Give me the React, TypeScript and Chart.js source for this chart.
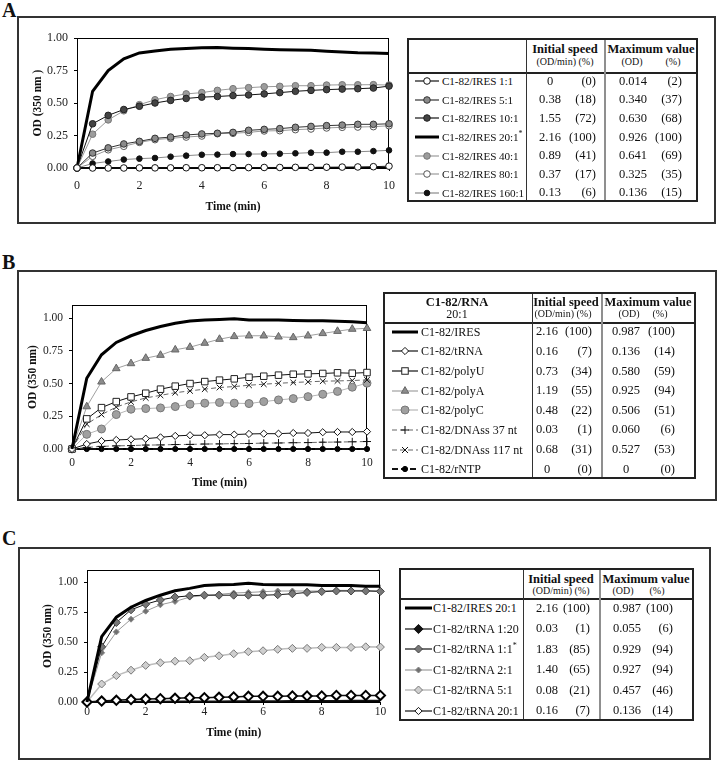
import React, { useEffect, useRef } from 'react';
import { Chart, registerables } from 'chart.js';

Chart.register(...registerables);

const SERIF = '"Liberation Serif", "Times New Roman", serif';

// ---------------- shared x values (min)
const TIME = [0, 0.5, 1, 1.5, 2, 2.5, 3, 3.5, 4, 4.5, 5, 5.5, 6, 6.5, 7, 7.5, 8, 8.5, 9, 9.5, 10];
const X_TICKS = [0, 2, 4, 6, 8, 10];
const Y_TICKS = [0, 0.25, 0.5, 0.75, 1.0];

// ---------------- Panel A series (OD 350 nm)
const A_1_1 = [0, 0, 0, 0, 0.001, 0.001, 0.001, 0.002, 0.002, 0.002, 0.003, 0.003, 0.004, 0.004, 0.005, 0.005, 0.006, 0.007, 0.008, 0.01, 0.014];
const A_5_1 = [0, 0.115, 0.155, 0.185, 0.205, 0.228, 0.238, 0.254, 0.262, 0.267, 0.274, 0.29, 0.297, 0.303, 0.313, 0.32, 0.326, 0.33, 0.336, 0.336, 0.34];
const A_10_1 = [0, 0.34, 0.405, 0.45, 0.475, 0.5, 0.52, 0.535, 0.545, 0.55, 0.557, 0.562, 0.57, 0.58, 0.59, 0.597, 0.603, 0.607, 0.61, 0.615, 0.63];
const A_20_1 = [0, 0.59, 0.75, 0.84, 0.885, 0.9, 0.913, 0.92, 0.925, 0.926, 0.922, 0.92, 0.914, 0.91, 0.908, 0.905, 0.898, 0.892, 0.887, 0.885, 0.88];
const A_40_1 = [0, 0.26, 0.37, 0.44, 0.487, 0.525, 0.55, 0.57, 0.58, 0.597, 0.61, 0.618, 0.625, 0.628, 0.633, 0.633, 0.638, 0.64, 0.64, 0.641, 0.638];
const A_80_1 = [0, 0.09, 0.14, 0.167, 0.197, 0.218, 0.228, 0.238, 0.246, 0.264, 0.267, 0.274, 0.285, 0.287, 0.295, 0.3, 0.308, 0.313, 0.315, 0.318, 0.325];
const A_160_1 = [0, 0.035, 0.05, 0.065, 0.072, 0.077, 0.087, 0.095, 0.102, 0.103, 0.107, 0.107, 0.108, 0.11, 0.113, 0.118, 0.118, 0.125, 0.125, 0.13, 0.136];

const A_NAMES = ['C1-82/IRES 1:1', 'C1-82/IRES 5:1', 'C1-82/IRES 10:1', 'C1-82/IRES 20:1', 'C1-82/IRES 40:1', 'C1-82/IRES 80:1', 'C1-82/IRES 160:1'];
const A_STAR = [false, false, false, true, false, false, false];
const A_SPEED = ['0', '0.38', '1.55', '2.16', '0.89', '0.37', '0.13'];
const A_SPEED_PCT = ['(0)', '(18)', '(72)', '(100)', '(41)', '(17)', '(6)'];
const A_MAX = ['0.014', '0.340', '0.630', '0.926', '0.641', '0.325', '0.136'];
const A_MAX_PCT = ['(2)', '(37)', '(68)', '(100)', '(69)', '(35)', '(15)'];

// ---------------- Panel B series
const B_IRES = [0, 0.54, 0.72, 0.814, 0.865, 0.905, 0.936, 0.96, 0.977, 0.985, 0.99, 0.995, 0.985, 0.985, 0.985, 0.982, 0.98, 0.98, 0.975, 0.972, 0.964];
const B_TRNA = [0, 0.038, 0.061, 0.069, 0.074, 0.079, 0.089, 0.1, 0.105, 0.105, 0.11, 0.11, 0.115, 0.117, 0.117, 0.122, 0.122, 0.128, 0.13, 0.13, 0.133];
const B_POLYU = [0, 0.23, 0.316, 0.362, 0.398, 0.426, 0.457, 0.48, 0.5, 0.515, 0.526, 0.536, 0.548, 0.556, 0.564, 0.571, 0.574, 0.577, 0.582, 0.579, 0.584];
const B_POLYA = [0, 0.324, 0.513, 0.615, 0.653, 0.694, 0.717, 0.758, 0.778, 0.809, 0.839, 0.86, 0.865, 0.865, 0.857, 0.852, 0.865, 0.883, 0.9, 0.916, 0.922];
const B_POLYC = [0, 0.112, 0.153, 0.263, 0.304, 0.309, 0.314, 0.324, 0.342, 0.35, 0.355, 0.35, 0.347, 0.362, 0.375, 0.385, 0.4, 0.418, 0.44, 0.472, 0.503];
const B_DNA37 = [0, 0.012, 0.02, 0.024, 0.026, 0.03, 0.031, 0.034, 0.035, 0.038, 0.039, 0.041, 0.042, 0.045, 0.046, 0.048, 0.049, 0.052, 0.053, 0.055, 0.057];
const B_DNA117 = [0, 0.19, 0.263, 0.32, 0.36, 0.39, 0.41, 0.43, 0.444, 0.457, 0.47, 0.477, 0.487, 0.495, 0.502, 0.508, 0.513, 0.518, 0.52, 0.523, 0.528];
const B_RNTP = [0, 0, 0, 0, 0, 0, 0, 0, 0, 0, 0, 0, 0, 0, 0, 0, 0, 0, 0, 0, 0];

const B_NAMES = ['C1-82/IRES', 'C1-82/tRNA', 'C1-82/polyU', 'C1-82/polyA', 'C1-82/polyC', 'C1-82/DNAss 37 nt', 'C1-82/DNAss 117 nt', 'C1-82/rNTP'];
const B_SPEED = ['2.16', '0.16', '0.73', '1.19', '0.48', '0.03', '0.68', '0'];
const B_SPEED_PCT = ['(100)', '(7)', '(34)', '(55)', '(22)', '(1)', '(31)', '(0)'];
const B_MAX = ['0.987', '0.136', '0.580', '0.925', '0.506', '0.060', '0.527', '0'];
const B_MAX_PCT = ['(100)', '(14)', '(59)', '(94)', '(51)', '(6)', '(53)', '(0)'];

// ---------------- Panel C series
const C_IRES = [0, 0.545, 0.707, 0.79, 0.846, 0.89, 0.927, 0.947, 0.97, 0.978, 0.98, 0.99, 0.98, 0.978, 0.978, 0.978, 0.97, 0.97, 0.97, 0.964, 0.964];
const C_1_20 = [0, 0.002, 0.003, 0.004, 0.005, 0.005, 0.006, 0.006, 0.007, 0.007, 0.008, 0.008, 0.009, 0.009, 0.01, 0.01, 0.011, 0.011, 0.012, 0.012, 0.013];
const C_1_1 = [0, 0.46, 0.662, 0.768, 0.815, 0.85, 0.874, 0.885, 0.89, 0.89, 0.89, 0.89, 0.89, 0.894, 0.902, 0.913, 0.92, 0.925, 0.925, 0.925, 0.922];
const C_2_1 = [0, 0.41, 0.584, 0.69, 0.757, 0.81, 0.838, 0.874, 0.888, 0.897, 0.908, 0.913, 0.919, 0.925, 0.925, 0.925, 0.925, 0.93, 0.93, 0.93, 0.925];
const C_5_1 = [0, 0.15, 0.22, 0.265, 0.305, 0.327, 0.34, 0.344, 0.372, 0.385, 0.402, 0.419, 0.427, 0.439, 0.447, 0.447, 0.455, 0.455, 0.455, 0.46, 0.458];
const C_20_1 = [0, 0.008, 0.014, 0.02, 0.025, 0.028, 0.031, 0.036, 0.036, 0.039, 0.042, 0.047, 0.047, 0.047, 0.05, 0.05, 0.05, 0.055, 0.055, 0.055, 0.055];

const C_NAMES = ['C1-82/IRES 20:1', 'C1-82/tRNA 1:20', 'C1-82/tRNA 1:1', 'C1-82/tRNA 2:1', 'C1-82/tRNA 5:1', 'C1-82/tRNA 20:1'];
const C_STAR = [false, false, true, false, false, false];
const C_SPEED = ['2.16', '0.03', '1.83', '1.40', '0.08', '0.16'];
const C_SPEED_PCT = ['(100)', '(1)', '(85)', '(65)', '(21)', '(7)'];
const C_MAX = ['0.987', '0.055', '0.929', '0.927', '0.457', '0.136'];
const C_MAX_PCT = ['(100)', '(6)', '(94)', '(94)', '(46)', '(14)'];

// ---------------- styles
type PStyle = 'circle' | 'rect' | 'rectRot' | 'triangle' | 'cross' | 'crossRot' | null;
type Sty = { line: string; lw: number; dash?: number[]; pt: PStyle; r: number; fill: string; stroke: string; sw: number };

const S_THICK: Sty = { line: '#000', lw: 3, pt: null, r: 0, fill: '#000', stroke: '#000', sw: 0 };

const A_STY: Sty[] = [
  { line: '#111', lw: 1, pt: 'circle', r: 3.3, fill: '#fff', stroke: '#111', sw: 1 },
  { line: '#333', lw: 1, pt: 'circle', r: 3.3, fill: '#8a8a8a', stroke: '#333', sw: 1 },
  { line: '#111', lw: 1, pt: 'circle', r: 3.3, fill: '#444', stroke: '#222', sw: 1 },
  S_THICK,
  { line: '#9a9a9a', lw: 1, pt: 'circle', r: 3.3, fill: '#9c9c9c', stroke: '#777', sw: 1 },
  { line: '#9a9a9a', lw: 1, pt: 'circle', r: 3.3, fill: '#fff', stroke: '#555', sw: 1 },
  { line: '#8a8a8a', lw: 1, pt: 'circle', r: 2.8, fill: '#111', stroke: '#111', sw: 1 },
];
const A_DATA = [A_1_1, A_5_1, A_10_1, A_20_1, A_40_1, A_80_1, A_160_1];

const B_STY: Sty[] = [
  S_THICK,
  { line: '#111', lw: 1, pt: 'rectRot', r: 3.6, fill: '#fff', stroke: '#111', sw: 1 },
  { line: '#111', lw: 1, pt: 'rect', r: 4.6, fill: '#fff', stroke: '#222', sw: 1 },
  { line: '#a0a0a0', lw: 1, pt: 'triangle', r: 4.4, fill: '#8c8c8c', stroke: '#666', sw: 1 },
  { line: '#b5b5b5', lw: 1, pt: 'circle', r: 4, fill: '#a0a0a0', stroke: '#777', sw: 1 },
  { line: '#666', lw: 1, dash: [5, 3], pt: 'cross', r: 4, fill: '#000', stroke: '#111', sw: 1 },
  { line: '#666', lw: 1, dash: [5, 3], pt: 'crossRot', r: 4, fill: '#000', stroke: '#111', sw: 1 },
  { line: '#111', lw: 2, dash: [6, 3], pt: 'circle', r: 2.6, fill: '#000', stroke: '#000', sw: 1 },
];
const B_DATA = [B_IRES, B_TRNA, B_POLYU, B_POLYA, B_POLYC, B_DNA37, B_DNA117, B_RNTP];

const C_STY: Sty[] = [
  S_THICK,
  { line: '#111', lw: 1.5, pt: null, r: 0, fill: '#000', stroke: '#000', sw: 1 },
  { line: '#111', lw: 1, pt: 'rectRot', r: 4, fill: '#777', stroke: '#444', sw: 1 },
  { line: '#9a9a9a', lw: 1, pt: 'rectRot', r: 3, fill: '#707070', stroke: '#888', sw: 1 },
  { line: '#bdbdbd', lw: 1.5, pt: 'rectRot', r: 4, fill: '#cfcfcf', stroke: '#777', sw: 1 },
  { line: '#111', lw: 1.5, pt: 'rectRot', r: 4.6, fill: '#fff', stroke: '#000', sw: 2 },
];
const C_ICON_STY: Sty[] = [
  S_THICK,
  { line: '#111', lw: 1, pt: 'rectRot', r: 4.6, fill: '#111', stroke: '#111', sw: 1 },
  C_STY[2], C_STY[3], C_STY[4],
  { line: '#111', lw: 1, pt: 'rectRot', r: 3.6, fill: '#fff', stroke: '#111', sw: 1 },
];
const C_DATA = [C_IRES, C_1_20, C_1_1, C_2_1, C_5_1, C_20_1];

// ---------------- chart
type Lay = {
  left: number; top: number; width: number; height: number;
  padTop: number; padRight: number; yW: number; xH: number; yMax: number;
  yTitle: string; yTitlePad: number; xTitlePad: number; xTickPad: number; tickSize: number;
};

const framePlugin = {
  id: 'frame',
  beforeDatasetsDraw(chart: any) {
    const { ctx, chartArea } = chart;
    const { left, top, right, bottom } = chartArea;
    ctx.save();
    ctx.strokeStyle = '#000';
    ctx.lineWidth = 1;
    ctx.strokeRect(Math.round(left) + 0.5, Math.round(top) + 0.5, Math.round(right - left) - 1, Math.round(bottom - top) - 1);
    ctx.restore();
  },
};

function makeDataset(data: number[], s: Sty, label: string) {
  return {
    label,
    data: TIME.map((t, i) => ({ x: t, y: data[i] })),
    borderColor: s.line,
    borderWidth: s.lw,
    borderDash: s.dash || [],
    pointStyle: s.pt || 'circle',
    pointRadius: s.pt ? s.r : 0,
    pointBackgroundColor: s.fill,
    pointBorderColor: s.stroke,
    pointBorderWidth: s.sw,
    tension: 0,
    fill: false,
    clip: false as any,
  };
}

function LineChart({ lay, datasets }: { lay: Lay; datasets: any[] }) {
  const ref = useRef<HTMLCanvasElement>(null);
  useEffect(() => {
    const chart = new Chart(ref.current as HTMLCanvasElement, {
      type: 'line',
      data: { datasets },
      plugins: [framePlugin],
      options: {
        animation: false,
        responsive: false,
        devicePixelRatio: 1,
        events: [],
        layout: { padding: { top: lay.padTop, right: lay.padRight, left: 0, bottom: 0 } },
        plugins: { legend: { display: false }, tooltip: { enabled: false } },
        scales: {
          x: {
            type: 'linear', min: 0, max: 10, position: 'bottom',
            afterBuildTicks: (s: any) => { s.ticks = X_TICKS.map((v) => ({ value: v })); },
            ticks: { padding: lay.xTickPad, color: '#222', maxRotation: 0, autoSkip: false, font: { family: SERIF, size: lay.tickSize } },
            grid: { drawOnChartArea: false, drawTicks: true, tickLength: 3, color: '#000' },
            border: { display: true, color: '#000', width: 1 },
            title: { display: true, text: 'Time (min)', color: '#111', font: { family: SERIF, size: 11.5, weight: 'bold' }, padding: { top: 0, bottom: lay.xTitlePad } },
            afterFit: (s: any) => { s.height = lay.xH; s.paddingLeft = 0; s.paddingRight = 0; },
          },
          y: {
            type: 'linear', min: 0, max: lay.yMax,
            afterBuildTicks: (s: any) => { s.ticks = Y_TICKS.map((v) => ({ value: v })); },
            ticks: { padding: 6, color: '#222', font: { family: SERIF, size: lay.tickSize }, callback: (v: any) => Number(v).toFixed(2) },
            grid: { drawOnChartArea: false, drawTicks: true, tickLength: 3, color: '#000' },
            border: { display: true, color: '#000', width: 1 },
            title: { display: true, text: lay.yTitle, color: '#111', font: { family: SERIF, size: 11.5, weight: 'bold' }, padding: { top: lay.yTitlePad, bottom: 0 } },
            afterFit: (s: any) => { s.width = lay.yW; s.paddingTop = 0; s.paddingBottom = 0; },
          },
        },
      } as any,
    });
    return () => chart.destroy();
  }, []);
  return (
    <canvas
      ref={ref}
      width={lay.width}
      height={lay.height}
      style={{ position: 'absolute', left: lay.left, top: lay.top, width: lay.width, height: lay.height }}
    />
  );
}

// ---------------- html helpers
function Txt({ x, y, children, size = 12, bold = false, align = 'left', color = '#111', ls = 0 }: any) {
  const H = Math.round(size * 2);
  const style: React.CSSProperties = {
    position: 'absolute', top: y - H / 2, height: H, lineHeight: H + 'px', fontSize: size,
    fontFamily: SERIF, fontWeight: bold ? 'bold' : 'normal', color, whiteSpace: 'nowrap', letterSpacing: ls,
  };
  if (align === 'left') style.left = x;
  else if (align === 'center') { style.left = x - 150; style.width = 300; style.textAlign = 'center'; }
  else { style.left = x - 300; style.width = 300; style.textAlign = 'right'; }
  return <div style={style}>{children}</div>;
}

function Ln({ x, y, w, h, c }: any) {
  return <div style={{ position: 'absolute', left: x, top: y, width: w, height: h, background: c }} />;
}

function Box({ x, y, w, h, bw = 2, c = '#333' }: any) {
  return <div style={{ position: 'absolute', left: x, top: y, width: w, height: h, border: `${bw}px solid ${c}`, boxSizing: 'border-box' }} />;
}

function Icon({ s, x, y, w }: { s: Sty; x: number; y: number; w: number }) {
  const h = 14, cx = w / 2, cy = 7, r = s.r;
  let m: any = null;
  const common = { fill: s.fill, stroke: s.stroke, strokeWidth: s.sw };
  if (s.pt === 'circle') m = <circle cx={cx} cy={cy} r={r} {...common} />;
  else if (s.pt === 'rect') { const a = r * Math.SQRT1_2; m = <rect x={cx - a} y={cy - a} width={2 * a} height={2 * a} {...common} />; }
  else if (s.pt === 'rectRot') m = <polygon points={`${cx},${cy - r} ${cx + r},${cy} ${cx},${cy + r} ${cx - r},${cy}`} {...common} />;
  else if (s.pt === 'triangle') m = <polygon points={`${cx},${cy - r} ${cx + r * 0.866},${cy + r * 0.5} ${cx - r * 0.866},${cy + r * 0.5}`} {...common} />;
  else if (s.pt === 'cross') m = <path d={`M${cx - r},${cy}H${cx + r}M${cx},${cy - r}V${cy + r}`} stroke={s.stroke} strokeWidth={1} />;
  else if (s.pt === 'crossRot') { const a = r * 0.75; m = <path d={`M${cx - a},${cy - a}L${cx + a},${cy + a}M${cx + a},${cy - a}L${cx - a},${cy + a}`} stroke={s.stroke} strokeWidth={1} />; }
  return (
    <svg width={w} height={h} style={{ position: 'absolute', left: x, top: y - h / 2 }}>
      <line x1={0} y1={cy} x2={w} y2={cy} stroke={s.line} strokeWidth={Math.max(s.lw, 1.2)} strokeDasharray={s.dash ? s.dash.join(' ') : undefined} />
      {m}
    </svg>
  );
}

type TLay = {
  L: number; T: number; R: number; B: number; hb: number; c1: number; c2: number;
  iconX: number; iconW: number; labelX: number; labelSize: number; labelLs: number;
  spC: number; spR: number; mxC: number; mxR: number; valSize: number;
};

function DataTable({ lay, names, stars, sty, speed, speedPct, max, maxPct, children }: any) {
  const l = lay as TLay;
  const n = names.length;
  const rowH = (l.B - l.hb) / n;
  return (
    <>
      <Ln x={l.L} y={l.hb} w={l.R - l.L} h={1.5} c="#222" />
      <Ln x={l.c1} y={l.T} w={1.3} h={l.B - l.T} c="#333" />
      <Ln x={l.c2} y={l.T} w={2} h={l.B - l.T} c="#8f8f8f" />
      <Box x={l.L} y={l.T} w={l.R - l.L} h={l.B - l.T} bw={2} c="#222" />
      {children}
      {names.map((nm: string, i: number) => {
        const cy = l.hb + rowH * (i + 0.5);
        return (
          <React.Fragment key={i}>
            <Icon s={sty[i]} x={l.iconX} y={cy} w={l.iconW} />
            <Txt x={l.labelX} y={cy} size={l.labelSize} ls={l.labelLs}>
              {nm}
              {stars && stars[i] ? <span style={{ fontSize: 8, position: 'relative', top: -5 }}>*</span> : null}
            </Txt>
            <Txt x={l.spC} y={cy} size={l.valSize} align="center">{speed[i]}</Txt>
            <Txt x={l.spR} y={cy} size={l.valSize} align="right">{speedPct[i]}</Txt>
            <Txt x={l.mxC} y={cy} size={l.valSize} align="center">{max[i]}</Txt>
            <Txt x={l.mxR} y={cy} size={l.valSize} align="right">{maxPct[i]}</Txt>
          </React.Fragment>
        );
      })}
    </>
  );
}

// ---------------- layouts
const LAY_A: Lay = { left: 20, top: 28, width: 380, height: 192, padTop: 10, padRight: 11, yW: 57, xH: 52, yMax: 1.0, yTitle: 'OD (350 nm )', yTitlePad: 11, xTitlePad: 6, xTickPad: 7.5, tickSize: 12 };
const LAY_B: Lay = { left: 20, top: 290, width: 360, height: 205, padTop: 15, padRight: 13, yW: 52, xH: 46, yMax: 1.1, yTitle: 'OD (350 nm)', yTitlePad: 6, xTitlePad: 5, xTickPad: 4, tickSize: 11.5 };
const LAY_C: Lay = { left: 22, top: 555, width: 365, height: 198, padTop: 15, padRight: 6, yW: 65, xH: 51, yMax: 1.1, yTitle: 'OD (350 nm)', yTitlePad: 19, xTitlePad: 13, xTickPad: 0.5, tickSize: 11.5 };

const TL_A: TLay = { L: 407, T: 38, R: 698, B: 202, hb: 72, c1: 526, c2: 604, iconX: 415, iconW: 24, labelX: 442, labelSize: 11.2, labelLs: -0.1, spC: 550, spR: 596, mxC: 633, mxR: 682, valSize: 12.5 };
const TL_B: TLay = { L: 383, T: 292, R: 696, B: 479, hb: 322, c1: 532, c2: 601, iconX: 392, iconW: 26, labelX: 421, labelSize: 12, labelLs: 0, spC: 547, spR: 592, mxC: 626, mxR: 675, valSize: 12.5 };
const TL_C: TLay = { L: 399, T: 568, R: 694, B: 721, hb: 598, c1: 523, c2: 599, iconX: 405, iconW: 27, labelX: 433, labelSize: 12, labelLs: 0, spC: 547, spR: 590, mxC: 627, mxR: 673, valSize: 12.5 };

export default function App() {
  const dsA = [0, 2, 1, 4, 5, 6, 3].map((i) => makeDataset(A_DATA[i], A_STY[i], A_NAMES[i]));
  const dsB = [0, 1, 2, 6, 5, 3, 4, 7].map((i) => makeDataset(B_DATA[i], B_STY[i], B_NAMES[i]));
  const dsC = [0, 5, 1, 2, 3, 4].map((i) => makeDataset(C_DATA[i], C_STY[i], C_NAMES[i]));

  return (
    <div style={{ position: 'fixed', left: 0, top: 0, width: 720, height: 766, background: '#fff', overflow: 'hidden' }}>
      {/* Panel labels */}
      <Txt x={2} y={10} size={20} bold>A</Txt>
      <Txt x={2} y={262} size={20} bold>B</Txt>
      <Txt x={2} y={538} size={20} bold>C</Txt>

      {/* Panel frames */}
      <Box x={17} y={16} w={699} h={208} bw={2} c="#333" />
      <Box x={17} y={270} w={700} h={231} bw={2} c="#333" />
      <Box x={18} y={547} w={693} h={213} bw={2} c="#333" />

      {/* Charts */}
      <LineChart lay={LAY_A} datasets={dsA} />
      <LineChart lay={LAY_B} datasets={dsB} />
      <LineChart lay={LAY_C} datasets={dsC} />

      {/* Table A */}
      <DataTable lay={TL_A} names={A_NAMES} stars={A_STAR} sty={A_STY} speed={A_SPEED} speedPct={A_SPEED_PCT} max={A_MAX} maxPct={A_MAX_PCT}>
        <Txt x={565} y={49} size={12.5} bold>{''}</Txt>
        <Txt x={565} y={49} size={12.5} bold align="center">Initial speed</Txt>
        <Txt x={565} y={62} size={10} align="center">(OD/min) (%)</Txt>
        <Txt x={651} y={49} size={12.5} bold align="center">Maximum value</Txt>
        <Txt x={632} y={62} size={10} align="center">(OD)</Txt>
        <Txt x={673} y={62} size={10} align="center">(%)</Txt>
      </DataTable>

      {/* Table B */}
      <DataTable lay={TL_B} names={B_NAMES} stars={null} sty={B_STY} speed={B_SPEED} speedPct={B_SPEED_PCT} max={B_MAX} maxPct={B_MAX_PCT}>
        <Txt x={457} y={302} size={12.5} bold align="center">C1-82/RNA</Txt>
        <Txt x={457} y={314} size={12} align="center">20:1</Txt>
        <Txt x={566} y={302} size={12.5} bold align="center">Initial speed</Txt>
        <Txt x={563} y={314} size={10} align="center">(OD/min) (%)</Txt>
        <Txt x={648} y={302} size={12.5} bold align="center">Maximum value</Txt>
        <Txt x={629} y={314} size={10} align="center">(OD)</Txt>
        <Txt x={660} y={314} size={10} align="center">(%)</Txt>
      </DataTable>

      {/* Table C */}
      <DataTable lay={TL_C} names={C_NAMES} stars={C_STAR} sty={C_ICON_STY} speed={C_SPEED} speedPct={C_SPEED_PCT} max={C_MAX} maxPct={C_MAX_PCT}>
        <Txt x={561} y={579} size={12.5} bold align="center">Initial speed</Txt>
        <Txt x={561} y={591} size={10} align="center">(OD/min) (%)</Txt>
        <Txt x={646} y={579} size={12.5} bold align="center">Maximum value</Txt>
        <Txt x={623} y={591} size={10} align="center">(OD)</Txt>
        <Txt x={657} y={591} size={10} align="center">(%)</Txt>
      </DataTable>
    </div>
  );
}
